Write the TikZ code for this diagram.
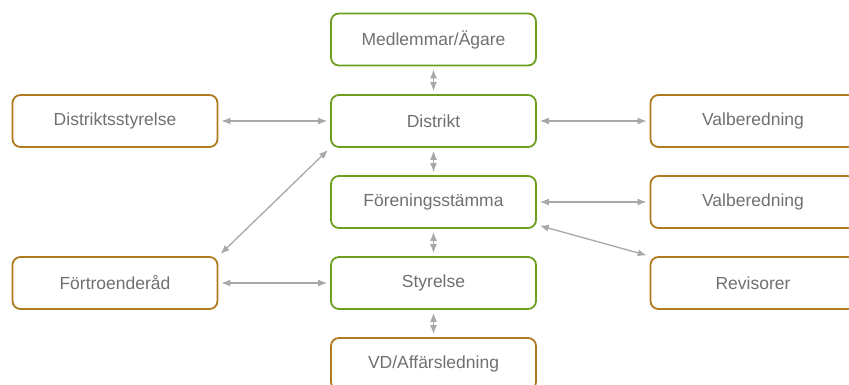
\documentclass[tikz,border=0pt]{standalone}
\usepackage{fontspec}
\setmainfont{Liberation Sans}
\usetikzlibrary{arrows.meta}
\definecolor{boxgreen}{HTML}{6E9E1E}
\definecolor{boxorange}{HTML}{B07A1E}
\definecolor{txtgray}{HTML}{707070}
\definecolor{arrgray}{HTML}{A8A8A8}
\tikzset{
  orgbox/.style={draw, rounded corners=8pt, line width=1.8pt, minimum width=205pt, minimum height=52pt, inner sep=0pt, text=txtgray, font=\fontsize{17.5}{21}\selectfont},
  gbox/.style={orgbox, draw=boxgreen},
  obox/.style={orgbox, draw=boxorange},
  link/.style={draw=arrgray, line width=1.3pt, {Latex[length=9pt,width=7pt]}-{Latex[length=9pt,width=7pt]}, shorten <=3pt, shorten >=3pt}
}
\begin{document}
\begin{tikzpicture}[x=1pt,y=-1pt]
\useasboundingbox (0,0) rectangle (849,385);
\clip (0,0) rectangle (849,385);
\node[gbox] (med) at (433.5,39.5) {Medlemmar/Ägare};
\node[gbox] (dis) at (433.5,121) {Distrikt};
\node[obox] (dst) at (115,121) {Distriktsstyrelse};
\node[obox] (val1) at (753,121) {Valberedning};
\node[gbox] (fs) at (433.5,202) {Föreningsstämma};
\node[obox] (val2) at (753,202) {Valberedning};
\node[obox] (fr) at (115,283) {Förtroenderåd};
\node[gbox] (sty) at (433.5,283) {Styrelse};
\node[obox] (rev) at (753,283) {Revisorer};
\node[obox] (vd) at (433.5,364) {VD/Affärsledning};
\draw[link] (med) -- (dis);
\draw[link] (dis) -- (fs);
\draw[link] (fs) -- (sty);
\draw[link] (sty) -- (vd);
\draw[link] (dst) -- (dis);
\draw[link] (dis) -- (val1);
\draw[link] (fs) -- (val2);
\draw[link] (fr) -- (sty);
\draw[link] (fr.north east) -- (dis.south west);
\draw[link] ([yshift=4pt]fs.south east) -- (rev.north west);
\end{tikzpicture}
\end{document}
